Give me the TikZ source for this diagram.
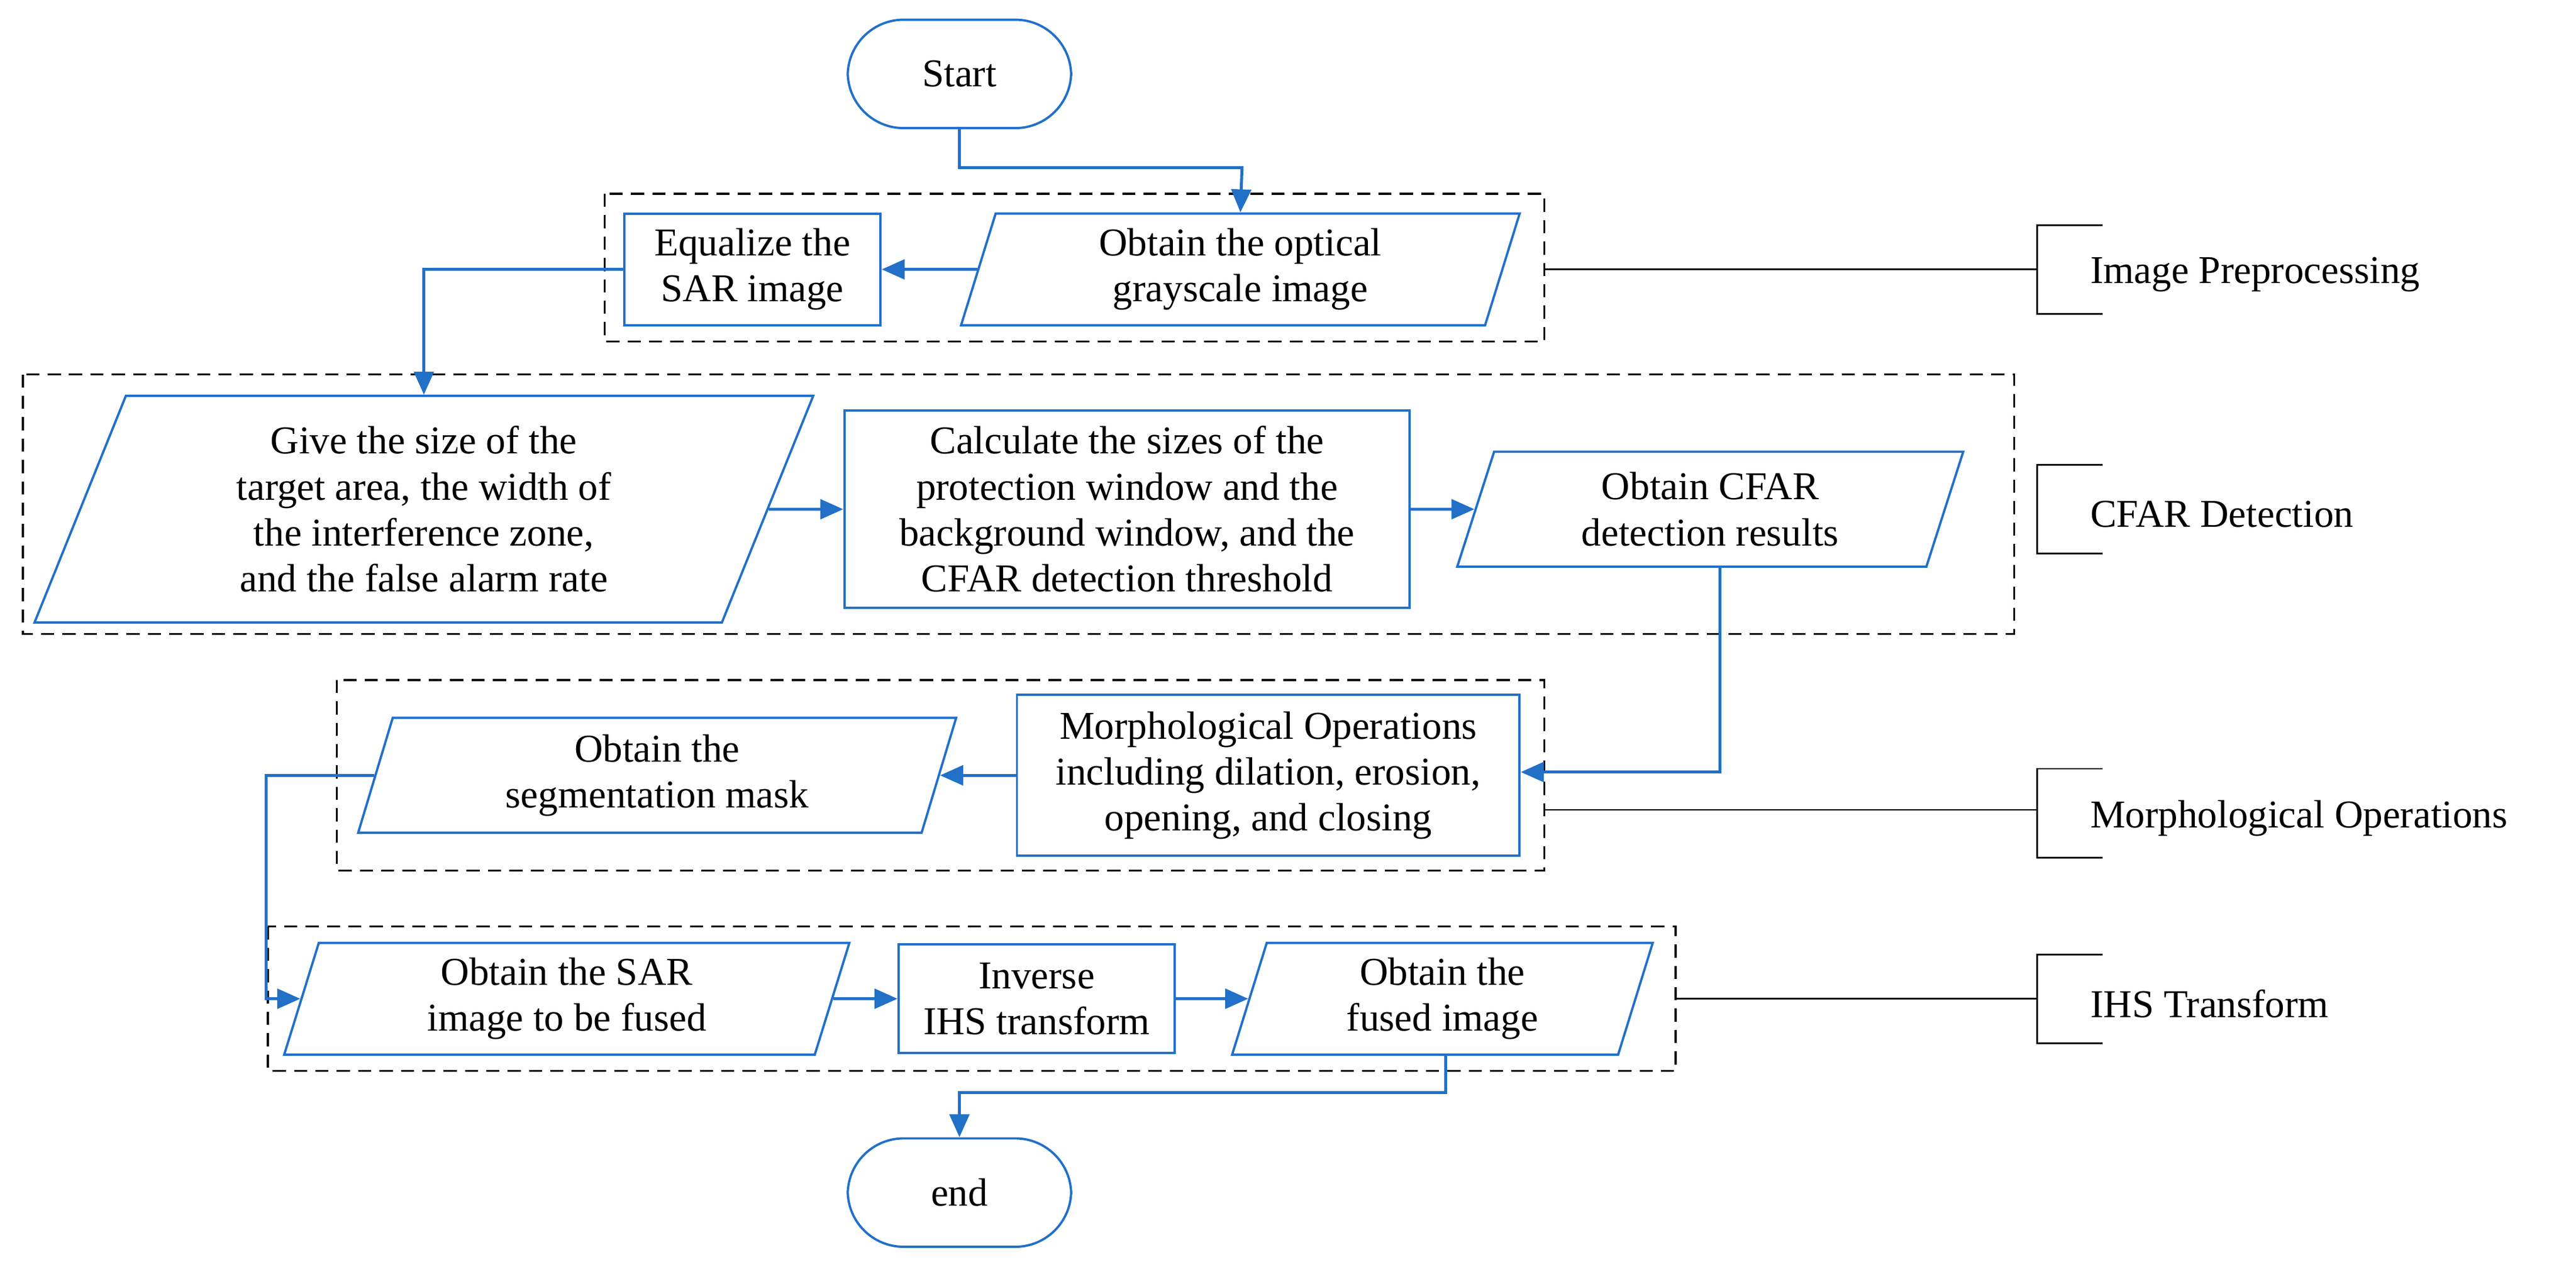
\documentclass[tikz,border=0pt]{standalone}
\usepackage{fontspec}
\setmainfont{Liberation Serif}
\usetikzlibrary{shapes.geometric,arrows.meta}
\definecolor{fb}{RGB}{34,112,200}
\begin{document}
\begin{tikzpicture}[x=0.5pt,y=-0.5pt,
  every node/.style={font=\fontsize{12}{14}\selectfont,align=center,inner sep=2pt},
  term/.style={draw=fb,line width=0.7pt,rounded corners=17pt,minimum width=68pt,minimum height=33pt},
  box/.style={draw=fb,line width=0.7pt},
  para/.style={draw=fb,line width=0.7pt,trapezium,trapezium stretches body,trapezium left angle=#1,trapezium right angle=180-#1},
  ar/.style={draw=fb,line width=0.9pt,-{Triangle[length=7pt,width=6pt]}},
  grp/.style={draw,dashed,line width=0.6pt,dash pattern=on 4pt off 2.5pt},
  brk/.style={draw,line width=0.5pt}]
\useasboundingbox (0,0) rectangle (1568,774);
% groups
\draw[grp] (368,118) rectangle (940,208);
\draw[grp] (14,228) rectangle (1226,386);
\draw[grp] (205,414) rectangle (940,530);
\draw[grp] (163,564) rectangle (1020,652);
% nodes
\node[term] (start) at (584,45) {Start};
\node[para=70,minimum width=170pt,minimum height=34pt] (opt) at (755,164) {Obtain the optical\\grayscale image};
\node[box,minimum width=78pt,minimum height=34pt] (eq) at (458,164) {Equalize the\\SAR image};
\node[para=63,minimum width=237pt,minimum height=69pt] (give) at (258,310) {Give the size of the\\target area, the width of\\the interference zone,\\and the false alarm rate};
\node[box,minimum width=172pt,minimum height=60pt] (calc) at (686,310) {Calculate the sizes of the\\protection window and the\\background window, and the\\CFAR detection threshold};
\node[para=67,minimum width=154pt,minimum height=35pt] (cfar) at (1041,310) {Obtain CFAR\\detection results};
\node[box,minimum width=153pt,minimum height=49pt] (morph) at (772,472) {Morphological Operations\\including dilation, erosion,\\opening, and closing};
\node[para=70,minimum width=182pt,minimum height=35pt] (seg) at (400,472) {Obtain the\\segmentation mask};
\node[para=70,minimum width=172pt,minimum height=34pt] (sar) at (345,608) {Obtain the SAR\\image to be fused};
\node[box,minimum width=84pt,minimum height=33pt] (ihs) at (631,608) {Inverse\\IHS transform};
\node[para=70,minimum width=128pt,minimum height=34pt] (fused) at (878,608) {Obtain the\\fused image};
\node[term] (end) at (584,726) {end};
% connectors
\coordinate (c1) at (584,102); \coordinate (c2) at (756,102);
\draw[ar] (start.south) -- (c1) -- (c2) -- (opt.north);
\draw[ar] (opt.west) -- (eq.east);
\coordinate (c3) at (258,164);
\draw[ar] (eq.west) -- (c3) -- (give.north);
\draw[ar] (give.east) -- (calc.west);
\draw[ar] (calc.east) -- (cfar.west);
\coordinate (c4) at (1047,470);
\draw[ar] (cfar.south -| c4) -- (c4) -- (morph.east |- c4);
\draw[ar] (morph.west) -- (seg.east);
\coordinate (c5) at (162,472); \coordinate (c6) at (162,608);
\draw[ar] (seg.west) -- (c5) -- (c6) -- (sar.west);
\draw[ar] (sar.east) -- (ihs.west);
\draw[ar] (ihs.east) -- (fused.west);
\coordinate (c7) at (880,665); \coordinate (c8) at (584,665);
\draw[ar] (fused.south -| c7) -- (c7) -- (c8) -- (end.north);
% brackets
\foreach \y/\t/\n in {164/Image Preprocessing/b1,310/CFAR Detection/b2,495/Morphological Operations/b3,608/IHS Transform/b4}{
  \draw[brk] (1280,\y-27) -- (1240,\y-27) -- (1240,\y+27) -- (1280,\y+27);
  \node[anchor=west] (\n) at (1268,\y+3) {\t};
}
\draw[brk] (940,164) -- (1240,164);
\draw[brk] (940,493) -- (1240,493);
\draw[brk] (1020,608) -- (1240,608);
\end{tikzpicture}
\end{document}
